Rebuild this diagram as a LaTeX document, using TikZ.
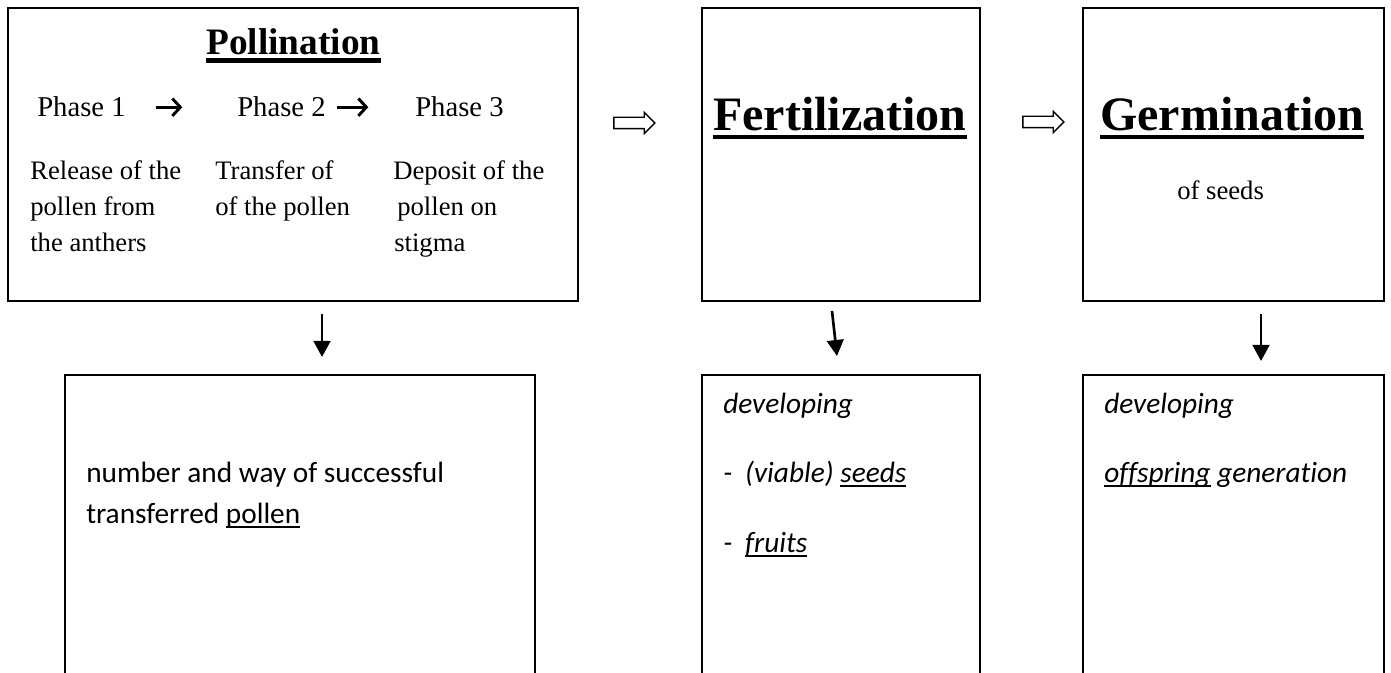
\documentclass[tikz,border=0pt]{standalone}
\usepackage{fontspec}
\setmainfont{Liberation Serif}
\newfontfamily\calibfont[Ligatures=NoCommon]{Carlito}
\usetikzlibrary{fit,calc,shapes.arrows,arrows.meta}

\newcommand{\ulrule}[3]{\setbox0=\hbox{#3}\rlap{\copy0}\rule[-#1]{\wd0}{#2}}

\tikzset{
    box/.style={draw, line width=1.5pt, inner sep=0pt, outer sep=0pt},
    txt/.style={inner sep=0pt, anchor=base west},
    title/.style={txt, font=\bfseries\fontsize{28}{34}\selectfont},
    bigtitle/.style={txt, font=\bfseries\fontsize{36}{43}\selectfont},
    phase/.style={txt, font=\fontsize{21.5}{26}\selectfont},
    body/.style={txt, font=\fontsize{20}{24}\selectfont},
    note/.style={txt, font=\calibfont\fontsize{22}{27}\selectfont},
    inote/.style={txt, font=\calibfont\itshape\fontsize{22}{27}\selectfont},
    phasearr/.style={-{Straight Barb[length=6pt,width=13pt,line width=2.2pt]}, line width=2.2pt},
    hollow/.style={single arrow, draw, line width=1pt, inner xsep=0pt, inner ysep=3.75pt,
        single arrow head extend=3.75pt, single arrow head indent=0pt, minimum height=30.75pt},
    downarr/.style={-{Triangle[length=12pt,width=12.5pt]}, line width=2pt}
}

\begin{document}
\begin{tikzpicture}[x=0.75pt,y=-0.75pt]
    \useasboundingbox (0,0) rectangle (1391,673);
    \clip (0,0) rectangle (1391,673);

    \node[box, fit={(8,8) (578,301)}] (poll) {};
    \node[box, fit={(702,8) (980,301)}] (fert) {};
    \node[box, fit={(1083,8) (1384,301)}] (germ) {};

    \node[box, fit={(65,375) (535,700)}] (pollres) {};
    \node[box, fit={(702,375) (980,700)}] (fertres) {};
    \node[box, fit={(1083,375) (1384,700)}] (germres) {};

    \node[title] (polltitle) at (206,55) {\ulrule{6pt}{3.75pt}{Pollination}};
    \node[phase] (ph1) at (37,117) {Phase 1};
    \node[phase] (ph2) at (237,117) {Phase 2};
    \node[phase] (ph3) at (415,117) {Phase 3};
    \draw[phasearr, shorten <=22.5pt, shorten >=41pt] (ph1.east) -- (ph2.west);
    \draw[phasearr, shorten <=8pt, shorten >=35pt] (ph2.east) -- (ph3.west);

    \node[body] (rel1) at (30,180) {Release of the};
    \node[body] (rel2) at (30,216) {pollen from};
    \node[body] (rel3) at (30,252) {the anthers};
    \node[body] (tra1) at (215,180) {Transfer of};
    \node[body] (tra2) at (215,216) {of the pollen};
    \node[body] (dep1) at (393,180) {Deposit of the};
    \node[body] (dep2) at (397,216) {pollen on};
    \node[body] (dep3) at (394,252) {stigma};

    \node[bigtitle] (ferttitle) at (713,131) {\ulrule{6pt}{3pt}{Fertilization}};
    \node[bigtitle] (germtitle) at (1100,131) {\ulrule{6pt}{3pt}{Germination}};
    \node[body] (seeds) at (1177,200) {of seeds};

    \node[hollow] (dbl1) at (631.5,123) {};
    \node[hollow] (dbl2) at (1040.5,122) {};

    \draw[downarr] ($(poll.south)+(29,13)$) -- ($(pollres.north)+(22,-18)$);
    \draw[downarr] ($(fert.south)+(-9,10)$) -- ($(fertres.north)+(-4,-19)$);
    \draw[downarr] ($(germ.south)+(27.5,13)$) -- ($(germres.north)+(27.5,-14)$);

    \node[note] (num1) at (86,482) {number and way of successful};
    \node[note] (num2) at (86,523) {transferred \ulrule{3.6pt}{1.1pt}{pollen}};

    \node[inote] (dev1) at (723,413) {developing};
    \node[inote] (viab) at (723,482) {\makebox[16.5pt][l]{-}(viable) \ulrule{3.6pt}{1.1pt}{seeds}};
    \node[inote] (fruit) at (723,552) {\makebox[16.5pt][l]{-}\ulrule{3.6pt}{1.1pt}{fruits}};

    \node[inote] (dev2) at (1104,413) {developing};
    \node[inote] (offs) at (1104,482) {\ulrule{3.6pt}{1.1pt}{offspring} generation};
\end{tikzpicture}
\end{document}
